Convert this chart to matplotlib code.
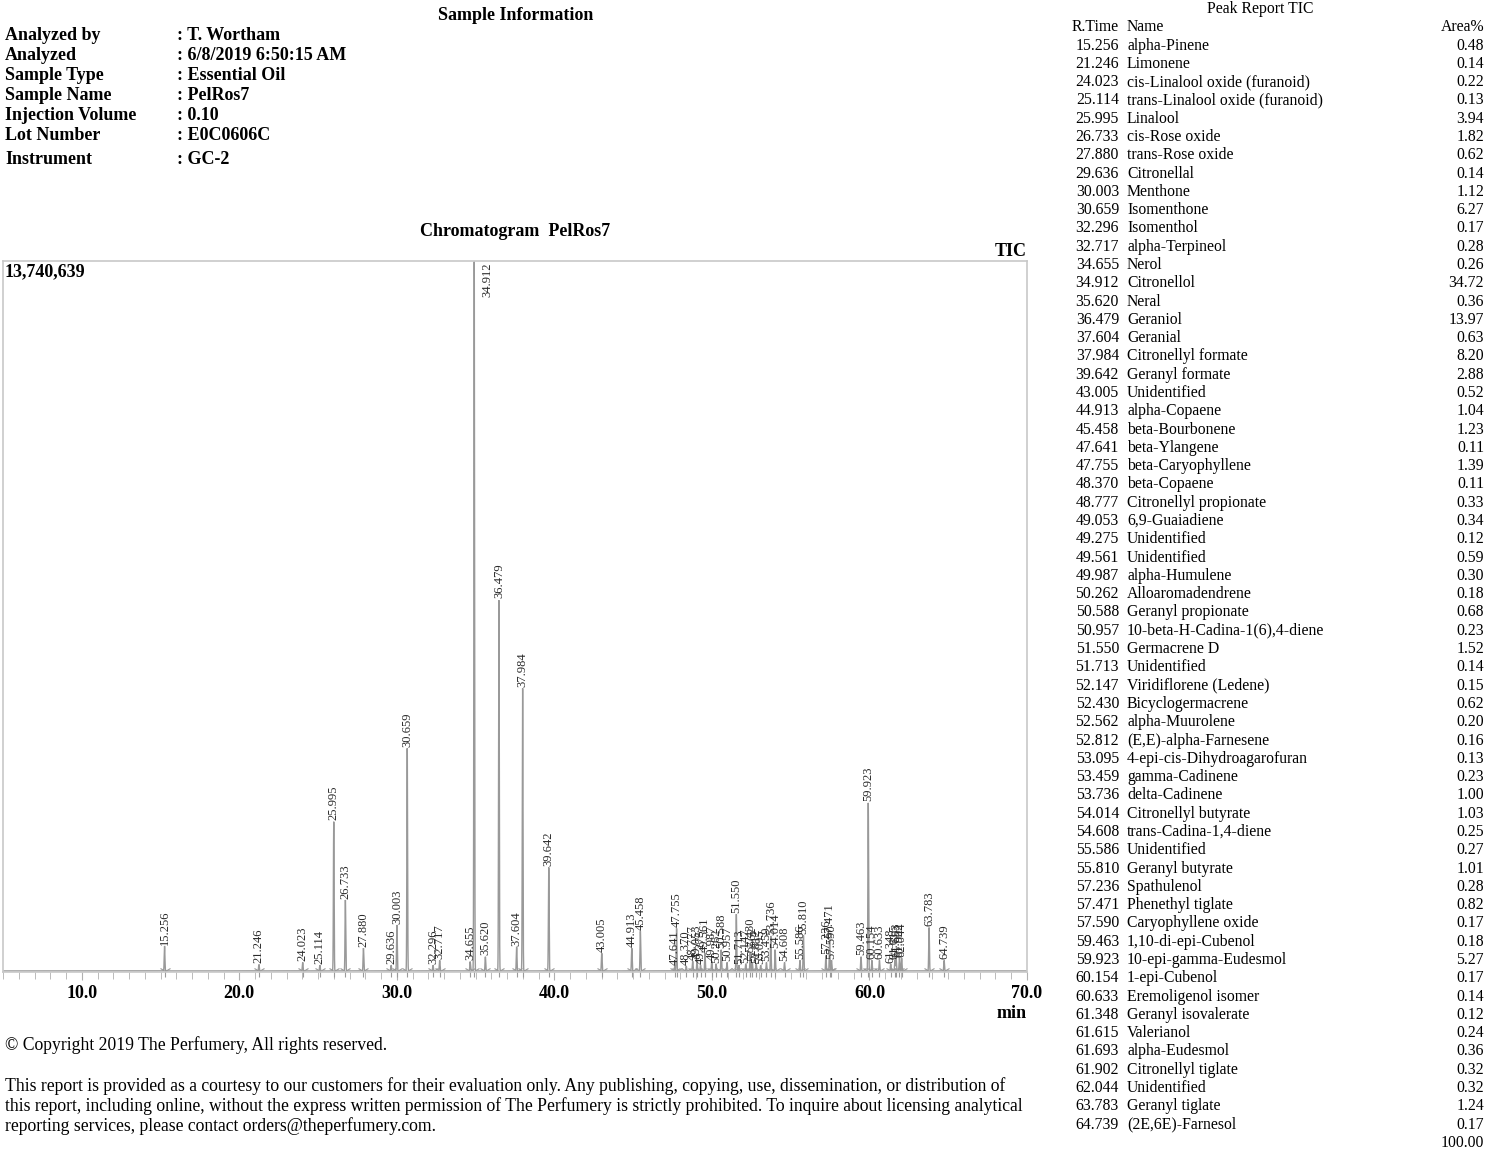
import numpy as np
import matplotlib
matplotlib.use("Agg")
import matplotlib.pyplot as plt
from matplotlib.ticker import MultipleLocator, FixedLocator

plt.rcParams['font.family'] = ['Liberation Serif', 'DejaVu Serif']

# ---------------- data ----------------
max_intensity = 13740639

peak_rt = [15.256, 21.246, 24.023, 25.114, 25.995, 26.733, 27.880, 29.636, 30.003, 30.659,
           32.296, 32.717, 34.655, 34.912, 35.620, 36.479, 37.604, 37.984, 39.642, 43.005,
           44.913, 45.458, 47.641, 47.755, 48.370, 48.777, 49.053, 49.275, 49.561, 49.987,
           50.262, 50.588, 50.957, 51.550, 51.713, 52.147, 52.430, 52.562, 52.812, 53.095,
           53.459, 53.736, 54.014, 54.608, 55.586, 55.810, 57.236, 57.471, 57.590, 59.463,
           59.923, 60.154, 60.633, 61.348, 61.615, 61.693, 61.902, 62.044, 63.783, 64.739]

peak_height = [480000, 125000, 165000, 110000, 2890000, 1375000, 440000, 110000, 890000, 4315000,
               110000, 205000, 180000, 13740639, 275000, 7185000, 465000, 5480000, 2005000, 345000,
               440000, 770000, 95000, 825000, 95000, 190000, 205000, 110000, 345000, 190000,
               135000, 410000, 165000, 1100000, 110000, 135000, 345000, 165000, 135000, 110000,
               165000, 675000, 410000, 165000, 205000, 690000, 300000, 605000, 205000, 275000,
               3255000, 205000, 205000, 135000, 205000, 250000, 250000, 250000, 840000, 205000]

peak_name = ["alpha-Pinene", "Limonene", "cis-Linalool oxide (furanoid)", "trans-Linalool oxide (furanoid)",
             "Linalool", "cis-Rose oxide", "trans-Rose oxide", "Citronellal", "Menthone", "Isomenthone",
             "Isomenthol", "alpha-Terpineol", "Nerol", "Citronellol", "Neral", "Geraniol", "Geranial",
             "Citronellyl formate", "Geranyl formate", "Unidentified", "alpha-Copaene", "beta-Bourbonene",
             "beta-Ylangene", "beta-Caryophyllene", "beta-Copaene", "Citronellyl propionate", "6,9-Guaiadiene",
             "Unidentified", "Unidentified", "alpha-Humulene", "Alloaromadendrene", "Geranyl propionate",
             "10-beta-H-Cadina-1(6),4-diene", "Germacrene D", "Unidentified", "Viridiflorene (Ledene)",
             "Bicyclogermacrene", "alpha-Muurolene", "(E,E)-alpha-Farnesene", "4-epi-cis-Dihydroagarofuran",
             "gamma-Cadinene", "delta-Cadinene", "Citronellyl butyrate", "trans-Cadina-1,4-diene",
             "Unidentified", "Geranyl butyrate", "Spathulenol", "Phenethyl tiglate", "Caryophyllene oxide",
             "1,10-di-epi-Cubenol", "10-epi-gamma-Eudesmol", "1-epi-Cubenol", "Eremoligenol isomer",
             "Geranyl isovalerate", "Valerianol", "alpha-Eudesmol", "Citronellyl tiglate", "Unidentified",
             "Geranyl tiglate", "(2E,6E)-Farnesol"]

peak_area = [0.48, 0.14, 0.22, 0.13, 3.94, 1.82, 0.62, 0.14, 1.12, 6.27, 0.17, 0.28, 0.26, 34.72, 0.36,
             13.97, 0.63, 8.20, 2.88, 0.52, 1.04, 1.23, 0.11, 1.39, 0.11, 0.33, 0.34, 0.12, 0.59, 0.30,
             0.18, 0.68, 0.23, 1.52, 0.14, 0.15, 0.62, 0.20, 0.16, 0.13, 0.23, 1.00, 1.03, 0.25, 0.27,
             1.01, 0.28, 0.82, 0.17, 0.18, 5.27, 0.17, 0.14, 0.12, 0.24, 0.36, 0.32, 0.32, 1.24, 0.17]
area_total = "100.00"

x_ticks = [10.0, 20.0, 30.0, 40.0, 50.0, 60.0, 70.0]

info_labels = ["Analyzed by", "Analyzed", "Sample Type", "Sample Name", "Injection Volume",
               "Lot Number", "Instrument"]
info_values = ["T. Wortham", "6/8/2019 6:50:15 AM", "Essential Oil", "PelRos7", "0.10",
               "E0C0606C", "GC-2"]

# ---------------- figure ----------------
W, H = 1500, 1156
fig = plt.figure(figsize=(W / 100, H / 100), dpi=100)
fig.patch.set_facecolor('white')


def P(x, y):
    return x / W, 1 - y / H


# axes box
ax_l, ax_r, ax_t, ax_b = 3, 1027, 261, 972
ax = fig.add_axes([ax_l / W, 1 - ax_b / H, (ax_r - ax_l) / W, (ax_b - ax_t) / H])

# trace built from peak list
t = np.linspace(5.0, 70.0, 26001)
trace = np.zeros_like(t)
sigma = 0.022
for rt, h in zip(peak_rt, peak_height):
    trace += h * np.exp(-0.5 * ((t - rt) / sigma) ** 2)
ax.plot(t, trace, color='#999999', lw=1.0, solid_joinstyle='miter')

ax.set_xlim(5.0, 70.0)
ax.set_ylim(-max_intensity * 0.0015, max_intensity * 1.0005)

for sp in ax.spines.values():
    sp.set_color('#c8c8c8')
    sp.set_linewidth(1.2)

ax.yaxis.set_visible(False)
ax.xaxis.set_major_locator(FixedLocator(x_ticks))
ax.xaxis.set_minor_locator(MultipleLocator(1.0))
ax.set_xticklabels([f"{v:.1f}" for v in x_ticks], fontweight='bold', fontsize=13)
ax.tick_params(axis='x', which='both', direction='out', color='#b0b0b0', pad=3)
ax.tick_params(axis='x', which='major', length=6)
ax.tick_params(axis='x', which='minor', length=5)

# boundary markers at baseline
ax.plot(peak_rt, [0] * len(peak_rt), linestyle='none', marker='1', markersize=9,
        color='#9a9a9a', markeredgewidth=0.8, clip_on=False)

# peak labels
top = max_intensity
lfs = 9.0
for rt, h in zip(peak_rt, peak_height):
    lab = f"{rt:.3f}"
    if h > top * 0.95:
        ax.text(rt + 0.85, top * 0.999, lab, rotation=90, ha='center', va='top', fontsize=lfs,
                color='#2a2a2a')
    else:
        ax.text(rt, h + top * 0.002, lab, rotation=90, ha='center', va='bottom', fontsize=lfs,
                color='#2a2a2a')

# texts around the chromatogram
fig.text(*P(5, 272), f"{max_intensity:,}", fontsize=13, fontweight='bold', va='center', ha='left')
fig.text(*P(1027, 251), "TIC", fontsize=13, fontweight='bold', va='center', ha='right')
fig.text(*P(515, 231), "Chromatogram  PelRos7", fontsize=13, fontweight='bold', va='center', ha='center')
fig.text(*P(1027, 1013), "min", fontsize=13, fontweight='bold', va='center', ha='right')

# sample information
fig.text(*P(516, 15), "Sample Information", fontsize=13, fontweight='bold', va='center', ha='center')
info_y = [35, 55, 75, 96, 116, 136, 160]
for yy, lab, val in zip(info_y, info_labels, info_values):
    fig.text(*P(5, yy), lab, fontsize=13, fontweight='bold', va='center', ha='left')
    fig.text(*P(177, yy), ": " + val, fontsize=13, fontweight='bold', va='center', ha='left')

# peak report table
tfs = 11.3
fig.text(*P(1260, 9), "Peak Report TIC", fontsize=tfs, va='center', ha='center')
fig.text(*P(1072, 27), "R.Time", fontsize=tfs, va='center', ha='left')
fig.text(*P(1127, 27), "Name", fontsize=tfs, va='center', ha='left')
fig.text(*P(1484, 27), "Area%", fontsize=tfs, va='center', ha='right')
row0, dy = 45.5, 18.29
for i, (rt, nm, ar) in enumerate(zip(peak_rt, peak_name, peak_area)):
    yy = row0 + i * dy
    fig.text(*P(1119, yy), f"{rt:.3f}", fontsize=tfs, va='center', ha='right')
    fig.text(*P(1127, yy), nm, fontsize=tfs, va='center', ha='left')
    fig.text(*P(1484, yy), f"{ar:.2f}", fontsize=tfs, va='center', ha='right')
fig.text(*P(1484, row0 + len(peak_rt) * dy), area_total, fontsize=tfs, va='center', ha='right')

# footer
ffs = 12.7
fig.text(*P(5, 1045), "\u00a9 Copyright 2019 The Perfumery, All rights reserved.", fontsize=ffs,
         va='center', ha='left')
footer_lines = [
    "This report is provided as a courtesy to our customers for their evaluation only. Any publishing, copying, use, dissemination, or distribution of",
    "this report, including online, without the express written permission of The Perfumery is strictly prohibited. To inquire about licensing analytical",
    "reporting services, please contact orders@theperfumery.com.",
]
for k, line in enumerate(footer_lines):
    fig.text(*P(5, 1086 + 20 * k), line, fontsize=ffs, va='center', ha='left')

fig.savefig("out.png", dpi=100, facecolor='white')
